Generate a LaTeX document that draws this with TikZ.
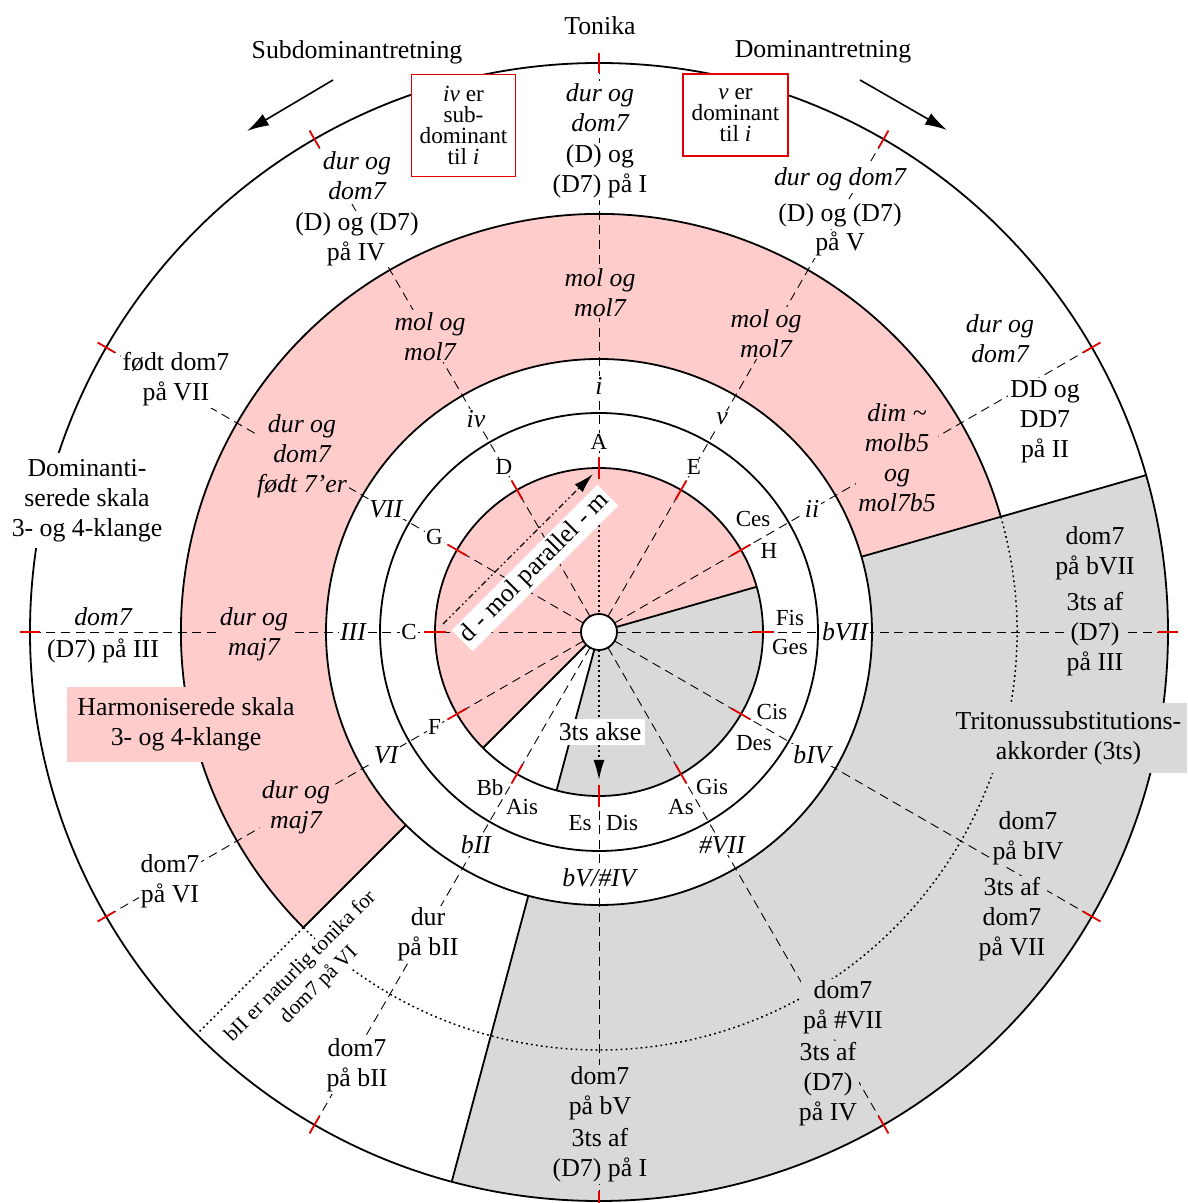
\documentclass[tikz,border=0pt]{standalone}
\usepackage{fontspec}
\setmainfont{Liberation Serif}
\usetikzlibrary{arrows.meta}
\definecolor{pinkf}{RGB}{255,204,204}
\definecolor{grayf}{RGB}{217,217,217}
\definecolor{redl}{RGB}{228,0,0}
\newcommand\mainsize{\fontsize{12.9}{15}\selectfont}
\tikzset{
 solidline/.style={line width=0.9pt},
 radial/.style={dash pattern=on 4.5pt off 2.8pt, line width=0.45pt},
 redtick/.style={draw=redl, line width=0.9pt},
 dotline/.style={dash pattern=on 0.9pt off 1.6pt, line width=0.75pt},
 lab/.style={fill=white, inner sep=1pt, align=center, font=\mainsize, yshift=-1.2pt},
 ilab/.style={fill=white, inner sep=1pt, align=center, font=\mainsize\itshape, yshift=-1.2pt},
 plab/.style={fill=pinkf, inner sep=1pt, align=center, font=\mainsize\itshape, yshift=-1.2pt},
 glab/.style={fill=grayf, inner sep=1pt, align=center, font=\mainsize, yshift=-1.2pt},
 rlab/.style={fill=white, inner sep=0.8pt, font=\mainsize\itshape},
 nlab/.style={fill=white, inner sep=0.6pt, font=\fontsize{11.5}{13}\selectfont},
 redbox/.style={draw=redl, line width=0.9pt, fill=white, align=center, inner sep=0pt, font=\fontsize{11.6}{10.5}\selectfont},
 tip/.style={-{Latex[length=10pt,width=5.5pt]}},
}
\begin{document}
\begin{tikzpicture}[x=0.5pt,y=0.5pt]
\useasboundingbox (-599,-571) rectangle (588,632);
% sector fills
\fill[grayf] (16:273) -- (16:569) arc[start angle=16,end angle=-105,radius=569] -- (-105:273) arc[start angle=-105,end angle=16,radius=273] -- cycle;
\fill[pinkf] (16:273) -- (16:418) arc[start angle=16,end angle=225,radius=418] -- (225:273) arc[start angle=225,end angle=16,radius=273] -- cycle;
\draw[solidline] (0,0) circle (569);
\draw[solidline] (16:418) arc[start angle=16,end angle=225,radius=418];
\draw[solidline] (16:273) -- (16:569);
\draw[solidline] (225:273) -- (225:418);
\draw[solidline] (-105:273) -- (-105:569);
\draw[solidline, fill=white] (0,0) circle (273);
\draw[solidline] (0,0) circle (219);
\fill[pinkf] (0,0) -- (16:164) arc[start angle=16,end angle=225,radius=164] -- cycle;
\fill[grayf] (0,0) -- (-105:164) arc[start angle=-105,end angle=16,radius=164] -- cycle;
\draw[solidline] (0,0) circle (164);
\draw[solidline] (0,0) -- (16:164) (0,0) -- (225:164) (0,0) -- (255:164);
% radial dashed lines
\foreach \a in {0,30,60,120,150,180,210,240,300,330} \draw[radial] (\a:18) -- (\a:569);
\draw[radial] (90:164) -- (90:569);
\draw[radial] (270:164) -- (270:569);
% dotted boundary
\draw[dotline] (16:418) arc[start angle=16,end angle=-135,radius=418];
\draw[dotline] (225:418) -- (225:569);
% red ticks
\foreach \a in {0,30,...,330} {
  \draw[redtick] (\a:559) -- (\a:579);
  \draw[redtick] (\a:153) -- (\a:175);
}
% axes in the inner disc
\coordinate (axtop) at (90:142);
\coordinate (axbot) at (270:148);
\draw[dotline, tip] (axtop) -- (axbot);
\coordinate (dmA) at (-156,8);
\coordinate (dmB) at (-6,158);
\draw[line width=0.7pt, dash pattern=on 3pt off 1.5pt on 0.8pt off 1.5pt on 0.8pt off 1.5pt, tip] (dmA) -- (dmB);
\node[fill=white, inner sep=1.5pt, rotate=45, font=\mainsize] (dmol) at (-64,64) {d - mol parallel - m};
\node[fill=white, inner sep=2pt, font=\mainsize] (akse) at (1,-100) {3ts akse};
\draw[solidline, fill=white] (0,0) circle (18);
% rotated note
\node[rotate=45, align=center, fill=white, inner sep=0pt, font=\fontsize{10.5}{13}\selectfont] (bii) at (-289,-344) {bII er naturlig tonika for\\dom7 på VI};
% roman ring
\node[rlab] (r0) at (0:246) {bVII};
\node[rlab] (r1) at (30:246) {ii};
\node[rlab] (r2) at (60:246) {v};
\node[rlab] (r3) at (90:246) {i};
\node[rlab] (r4) at (120:246) {iv};
\node[rlab] (r5) at (150:246) {VII};
\node[rlab] (r6) at (180:246) {III};
\node[rlab] (r7) at (210:246) {VI};
\node[rlab] (r8) at (240:246) {bII};
\node[rlab] (r9) at (270:246) {bV/\#IV};
\node[rlab] (r10) at (300:246) {\#VII};
\node[rlab] (r11) at (330:246) {bIV};
% letter ring
\node[nlab] (nA) at (90:190) {A};
\node[nlab] (nE) at (60:190) {E};
\node[nlab] (nD) at (120:190) {D};
\node[nlab] (nG) at (150:190) {G};
\node[nlab] (nC) at (180:190) {C};
\node[nlab] (nF) at (210:190) {F};
% top arrows
\coordinate (sdA) at (-266,552);
\coordinate (sdB) at (-352,501);
\coordinate (dA) at (261,552);
\coordinate (dB) at (348,502);
\draw[line width=0.8pt, -{Latex[length=11pt,width=6.5pt]}] (sdA) -- (sdB);
\draw[line width=0.8pt, -{Latex[length=11pt,width=6.5pt]}] (dA) -- (dB);
% texts in screen coordinates
\begin{scope}[x=0.5pt,y=-0.5pt,shift={(-599,-632)}]
\node[nlab] (nCes) at (753,519) {Ces};
\node[nlab] (nH) at (769,551) {H};
\node[nlab] (nFis) at (790,618) {Fis};
\node[nlab] (nGes) at (790,647) {Ges};
\node[nlab] (nCis) at (772,712) {Cis};
\node[nlab] (nDes) at (754,743) {Des};
\node[nlab] (nGis) at (712,787) {Gis};
\node[nlab] (nAs) at (681,807) {As};
\node[nlab] (nDis) at (622,823) {Dis};
\node[nlab] (nEs) at (580,823) {Es};
\node[nlab] (nBb) at (490,788) {Bb};
\node[nlab] (nAis) at (522,807) {Ais};
\node[font=\mainsize] (tTon) at (600,26) {Tonika};
\node[font=\mainsize] (tSub) at (357,52) {Subdominantretning};
\node[font=\mainsize] (tDom) at (823,52) {Dominantretning};
\node[redbox, minimum width=52pt, minimum height=51pt] (box1) at (463.5,125.5) {\textit{iv} er\\sub-\\dominant\\til \textit{i}};
\node[redbox, minimum width=52.5pt, minimum height=41pt] (box2) at (735.5,115) {\textit{v} er\\dominant\\til \textit{i}};
% outer ring
\node[ilab] (o1) at (600,105) {dur og\\dom7};
\node[lab] (o2) at (600,169) {(D) og\\(D7) på I};
\node[ilab] (o3) at (357,173) {dur og\\dom7};
\node[lab] (o4a) at (357,222) {(D) og (D7)};
\node[lab] (o4b) at (356,252) {på IV};
\node[ilab] (o5) at (840,177) {dur og dom7};
\node[lab] (o6a) at (840,213) {(D) og (D7)};
\node[lab] (o6b) at (840,242) {på V};
\node[ilab] (o7) at (1000,336) {dur og\\dom7};
\node[lab] (o8) at (1045,419) {DD og\\DD7\\på II};
\node[lab] (o9) at (176,377) {født dom7\\på VII};
\node[lab, inner sep=3pt] (o10) at (87,498) {Dominanti-\\serede skala\\3- og 4-klange};
\node[ilab] (o11) at (103,614) {dom7};
\node[lab] (o12) at (103,649) {(D7) på III};
\node[lab] (o13) at (170,879) {dom7\\på VI};
\node[lab] (o14) at (428,932) {dur\\på bII};
\node[lab] (o15) at (357,1063) {dom7\\på bII};
\node[glab] (o16) at (600,1122) {dom7\\på bV\\[1pt]3ts af\\(D7) på I};
\node[glab] (o17) at (843,1005) {dom7\\på \#VII};
\node[glab] (o18) at (828,1082) {3ts af\\(D7)\\på IV};
\node[glab] (o19) at (1028,836) {dom7\\på bIV};
\node[glab] (o20) at (1012,917) {3ts af\\dom7\\på VII};
\node[glab] (o21) at (1095,551) {dom7\\på bVII};
\node[glab] (o22) at (1095,632) {3ts af\\(D7)\\på III};
\node[fill=grayf, align=center, font=\mainsize, inner sep=0pt, minimum width=118.5pt, minimum height=35pt] (gbox) at (1068.5,738) {\raisebox{-3pt}{\parbox{118pt}{\centering Tritonussubstitutions-\\akkorder (3ts)}}};
\node[fill=pinkf, align=center, font=\mainsize, inner sep=0pt, minimum width=119pt, minimum height=37.5pt] (pbox) at (186,724.5) {\raisebox{-3pt}{\parbox{118pt}{\centering Harmoniserede skala\\3- og 4-klange}}};
% pink annulus
\node[plab] (p1) at (600,290) {mol og\\mol7};
\node[plab] (p2) at (430,334) {mol og\\mol7};
\node[plab] (p3) at (766,331) {mol og\\mol7};
\node[plab] (p4) at (897,455) {dim {\char"7E}\\molb5\\og\\mol7b5};
\node[plab] (p5) at (302,454) {dur og\\dom7\\født 7'er};
\node[plab] (p6) at (254,632) {dur og\\maj7};
\node[plab] (p7) at (296,805) {dur og\\maj7};
\end{scope}
\end{tikzpicture}
\end{document}
